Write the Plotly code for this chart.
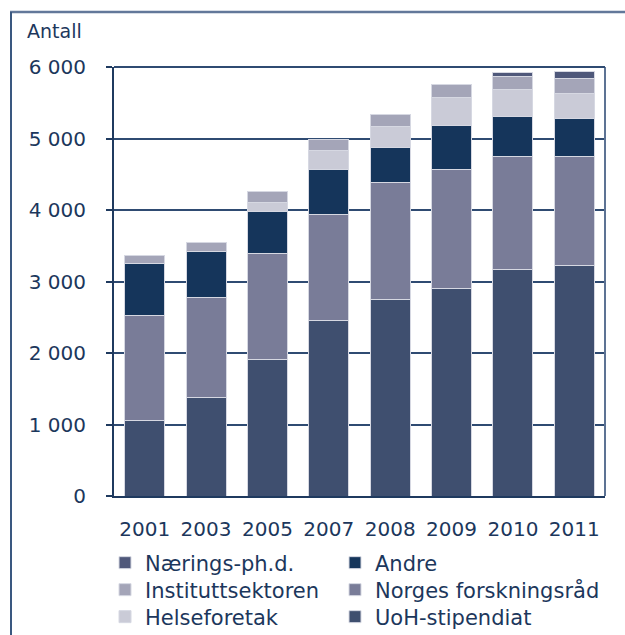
import plotly.graph_objects as go

years = ["2001", "2003", "2005", "2007", "2008", "2009", "2010", "2011"]
uoh = [1050, 1375, 1916, 2457, 2748, 2897, 3172, 3219]
norges = [1480, 1408, 1473, 1487, 1630, 1676, 1583, 1536]
andre = [720, 634, 587, 629, 493, 606, 546, 518]
helse = [0, 0, 131, 256, 290, 392, 382, 363]
institutt = [107, 131, 149, 164, 168, 187, 191, 206]
naerings = [0, 0, 0, 0, 0, 0, 52, 102]

# name, values, colour, legend slot (column, row)
series = [
    ("UoH-stipendiat", uoh, "#3f4f6f", (1, 2)),
    ("Norges forskningsråd", norges, "#797c98", (1, 1)),
    ("Andre", andre, "#15355b", (1, 0)),
    ("Helseforetak", helse, "#cacbd7", (0, 2)),
    ("Instituttsektoren", institutt, "#a4a5b8", (0, 1)),
    ("Nærings-ph.d.", naerings, "#4f587a", (0, 0)),
]

txt = "#1c375c"
font = "DejaVu Sans"
W, H = 625, 635
col_text_x = [145, 375]
row_cy = [563, 590, 617]

fig = go.Figure()
legends = {}
for i, (name, vals, col, (c, r)) in enumerate(series):
    key = "legend" if i == 0 else f"legend{i + 1}"
    fig.add_trace(go.Bar(
        x=years, y=vals, name=name, legend=key,
        marker=dict(color=col, line=dict(color="#d6d8e2", width=1)),
    ))
    legends[key] = dict(
        orientation="h", xref="container", yref="container",
        x=(col_text_x[c] - 40) / W, y=1 - row_cy[r] / H,
        xanchor="left", yanchor="middle", itemwidth=30,
        font=dict(size=21, color=txt, family=font),
        bgcolor="rgba(0,0,0,0)", borderwidth=0,
    )

fig.update_layout(
    width=W, height=H,
    barmode="stack", bargap=0.35,
    plot_bgcolor="white", paper_bgcolor="white",
    margin=dict(l=114, r=20, t=67, b=139, autoexpand=False),
    separators=", ",
    font=dict(family=font, size=20, color=txt),
    showlegend=True,
    **legends,
    xaxis=dict(
        showline=True, linecolor="#1f3a5f", linewidth=2,
        ticks="", tickfont=dict(size=20, color=txt),
        ticklabelstandoff=14, showgrid=False,
    ),
    yaxis=dict(
        range=[0, 6000], tickvals=[0, 1000, 2000, 3000, 4000, 5000, 6000],
        tickformat=",d",
        showline=True, linecolor="#1f3a5f", linewidth=2,
        ticks="outside", ticklen=6, tickcolor="#1f3a5f", tickwidth=2,
        ticklabelstandoff=16,
        showgrid=True, gridcolor="#2f4b72", gridwidth=1.5,
        zeroline=False, tickfont=dict(size=20, color=txt),
    ),
    shapes=[
        dict(type="line", xref="paper", yref="paper", x0=1, x1=1, y0=0, y1=1,
             line=dict(color="#5d7394", width=2)),
        dict(type="line", xref="paper", yref="paper", x0=0, x1=1, y0=1, y1=1,
             line=dict(color="#2f4b72", width=2)),
        dict(type="line", xref="paper", yref="paper",
             x0=-104/491, x1=511/491, y0=1 + 55/429, y1=1 + 55/429,
             line=dict(color="#62789a", width=2.5)),
        dict(type="line", xref="paper", yref="paper",
             x0=-103/491, x1=-103/491, y0=1 + 55/429, y1=-139/429,
             line=dict(color="#3a5880", width=2)),
    ],
    annotations=[
        dict(text="Antall", xref="paper", yref="paper", x=-89/491, y=1 + 36/429,
             xanchor="left", yanchor="middle", showarrow=False,
             font=dict(size=19, color=txt, family=font)),
    ],
)

fig.write_html(
    "out.html",
    config={"displayModeBar": False},
    post_script="document.body.style.margin='0';document.body.style.overflow='hidden';",
)
